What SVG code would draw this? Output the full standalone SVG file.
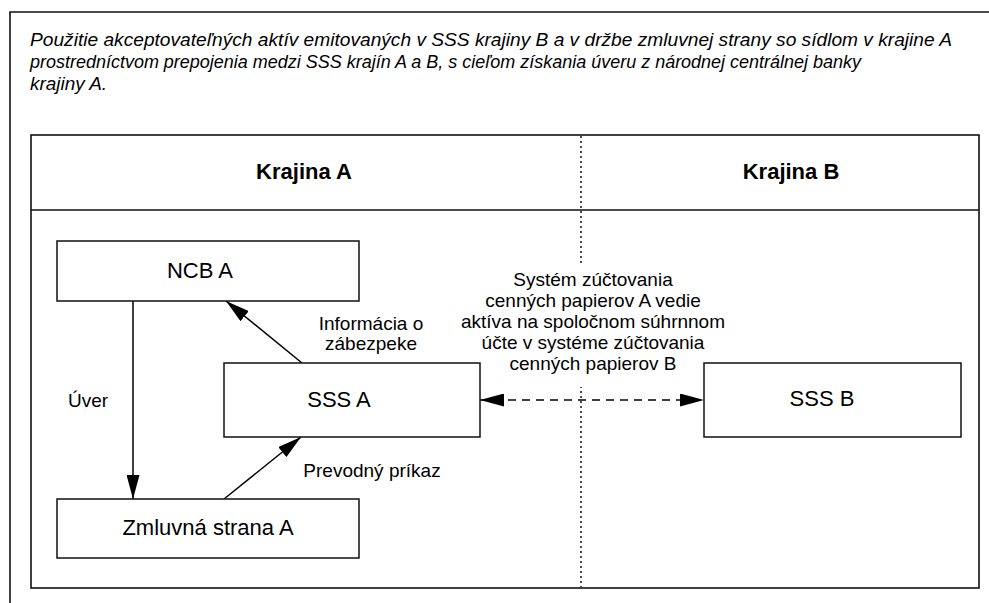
<svg xmlns="http://www.w3.org/2000/svg" width="989" height="603" viewBox="0 0 989 603">
<defs>
<style>
.frame{fill:none;stroke:#111;stroke-width:1.6}
.box{fill:#fff;stroke:#111;stroke-width:1.5}
.conn{fill:none;stroke:#000;stroke-width:1.5}
.dash{stroke-dasharray:8 6}
.dot{fill:none;stroke:#111;stroke-width:1.5;stroke-dasharray:2 3}
.t{font-family:"Liberation Sans",Arial,sans-serif;fill:#000}
.title{font-size:18px;font-style:italic}
.head{font-size:22px;font-weight:bold;text-anchor:middle}
.node{font-size:22px;text-anchor:middle}
.lbl{font-size:19px;text-anchor:middle}
</style>
<marker id="arr" markerUnits="userSpaceOnUse" markerWidth="24" markerHeight="13" refX="24" refY="6.5" orient="auto-start-reverse">
<path d="M0,0 L24,6.5 L0,13 z" fill="#000"/>
</marker>
</defs>
<rect width="989" height="603" fill="#fff"/>
<g id="frame">
<path class="frame" d="M10,603 V12 H989"/>
<rect class="frame" x="31" y="135" width="948" height="453"/>
<line class="frame" x1="31" y1="210" x2="979" y2="210"/>
<line class="dot" x1="581" y1="136" x2="581" y2="587"/>
</g>
<g id="title" class="t title">
<text x="30" y="46" textLength="922" lengthAdjust="spacingAndGlyphs">Použitie akceptovateľných aktív emitovaných v SSS krajiny B a v držbe zmluvnej strany so sídlom v krajine A</text>
<text x="30" y="68" textLength="831" lengthAdjust="spacingAndGlyphs">prostredníctvom prepojenia medzi SSS krajín A a B, s cieľom získania úveru z národnej centrálnej banky</text>
<text x="30" y="90" textLength="77" lengthAdjust="spacingAndGlyphs">krajiny A.</text>
</g>
<g id="headers" class="t head">
<text x="304" y="179">Krajina A</text>
<text x="791" y="179">Krajina B</text>
</g>
<g id="connectors">
<line class="conn" x1="133" y1="301" x2="133" y2="499" marker-end="url(#arr)"/>
<line class="conn" x1="302" y1="363" x2="226" y2="301" marker-end="url(#arr)"/>
<line class="conn" x1="224" y1="499" x2="301" y2="437" marker-end="url(#arr)"/>
<line class="conn dash" x1="480" y1="400" x2="704" y2="400" marker-start="url(#arr)" marker-end="url(#arr)"/>
<text class="t lbl" x="88" y="407">Úver</text>
<text class="t lbl" x="371" y="330">Informácia o</text>
<text class="t lbl" x="371" y="350">zábezpeke</text>
<text class="t lbl" x="372" y="477">Prevodný príkaz</text>
<rect x="455" y="266" width="276" height="121" fill="#fff"/>
<g class="t lbl">
<text x="593" y="286">Systém zúčtovania</text>
<text x="593" y="307">cenných papierov A vedie</text>
<text x="593" y="328">aktíva na spoločnom súhrnnom</text>
<text x="593" y="349">účte v systéme zúčtovania</text>
<text x="593" y="370">cenných papierov B</text>
</g>
</g>
<g id="ncb-a">
<rect class="box" x="57" y="241" width="302" height="60"/>
<text class="t node" x="200" y="278">NCB A</text>
</g>
<g id="sss-a">
<rect class="box" x="224" y="363" width="256" height="74"/>
<text class="t node" x="339" y="407">SSS A</text>
</g>
<g id="zmluvna-strana-a">
<rect class="box" x="57" y="499" width="302" height="59"/>
<text class="t node" x="208" y="535">Zmluvná strana A</text>
</g>
<g id="sss-b">
<rect class="box" x="704" y="363" width="257" height="74"/>
<text class="t node" x="822" y="406">SSS B</text>
</g>
</svg>
